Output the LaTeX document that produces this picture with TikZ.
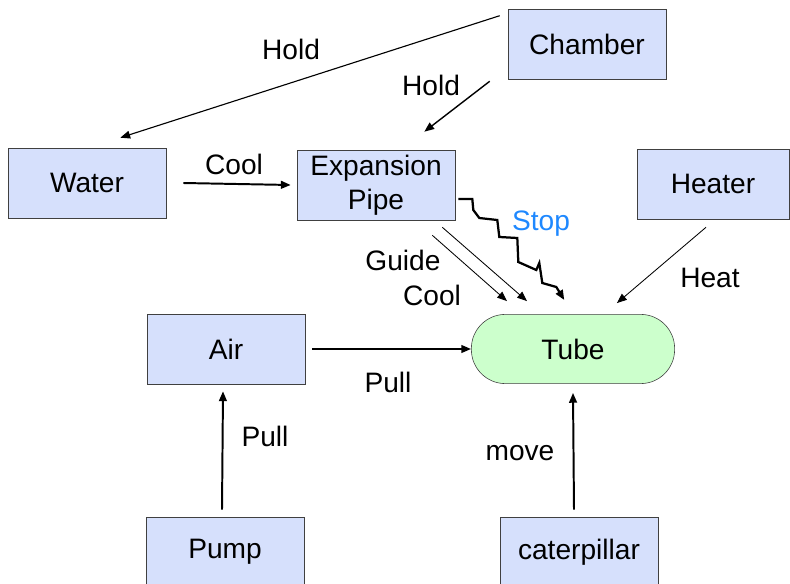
\documentclass[tikz,border=0pt]{standalone}
\usepackage{fontspec}
\setmainfont{Liberation Sans}
\usepackage{tikz}
\usetikzlibrary{arrows.meta,calc}
\definecolor{boxblue}{RGB}{214,224,252}
\definecolor{tubegreen}{RGB}{204,255,204}
\definecolor{stopblue}{RGB}{30,136,255}

\begin{document}
\begin{tikzpicture}[x=0.025cm,y=-0.025cm,font=\fontsize{20}{24}\selectfont,
  box/.style={draw=black!75,fill=boxblue,minimum width=3.95cm,minimum height=1.75cm,inner sep=0pt,align=center},
  lbl/.style={inner sep=0pt},
  arr/.style={-{Triangle[length=7pt,width=5.5pt]}}]
\useasboundingbox (0,0) rectangle (790,584);

\node[box] (chamber) at (587,44) {Chamber};
\node[box] (water) at (87,183) {Water};
\node[box] (expansion) at (376,185) {Expansion\\Pipe};
\node[box,minimum width=3.8cm] (heater) at (713,184) {Heater};
\node[box] (air) at (226,349) {Air};
\node[box,fill=tubegreen,rounded corners=0.85cm,minimum width=5.08cm,minimum height=1.73cm] (tube) at (573,349) {Tube};
\node[box] (pump) at (225,552) {Pump};
\node[box] (caterpillar) at (579,552) {caterpillar};

\node[lbl] (hold1) at (291,49) {Hold};
\node[lbl] (hold2) at (431,85) {Hold};
\node[lbl] (cool1) at (234,164) {Cool};
\node[lbl] (guide) at (403,260) {Guide};
\node[lbl] (cool2) at (432,295) {Cool};
\node[lbl,text=stopblue] (stop) at (541,224) {Stop};
\node[lbl] (heat) at (710,278) {Heat};
\node[lbl] (pull1) at (388,382) {Pull};
\node[lbl] (pull2) at (265,436) {Pull};
\node[lbl] (move) at (520,453) {move};

\draw[arr,line width=0.8pt] ($(chamber.north west)+(-8,7)$) -- ($(water.north east)+(-46,-10)$);
\draw[arr,line width=1pt] ($(chamber.south west)+(-18,2)$) -- ($(expansion.north east)+(-31,-18)$);
\draw[arr,line width=1.4pt] ($(water.east)+(17,0)$) -- ($(expansion.west)+(-6,0)$);
\draw[arr,line width=0.6pt] ($(expansion.south east)+(-23,15)$) -- ($(tube.north)+(-66,-13)$);
\draw[arr,line width=0.6pt] ($(expansion.south east)+(-13,7)$) -- ($(tube.north)+(-46,-13)$);
\draw[arr,line width=1.6pt] ($(expansion.east)+(3,14)$) -- ++(14,0) -- ++(1,11) -- ++(6,8) -- ++(18,2)
  -- ++(2,17) -- ++(18,1) -- ++(1,24) -- ++(18,8) -- ++(3,-7) -- ++(3,20) -- ++(14,4) -- ++(8,13);
\draw[arr,line width=0.6pt] ($(heater.south)+(-7,8)$) -- ($(tube.north east)+(-58,-11)$);
\draw[arr,line width=1.4pt] ($(air.east)+(7,0)$) -- (tube.west);
\draw[arr,line width=1.4pt] ($(pump.north)+(-3,-7)$) -- ($(air.south)+(-3,7)$);
\draw[arr,line width=1.4pt] ($(caterpillar.north)+(-5,-7)$) -- ($(tube.south)+(0,9)$);
\end{tikzpicture}
\end{document}
